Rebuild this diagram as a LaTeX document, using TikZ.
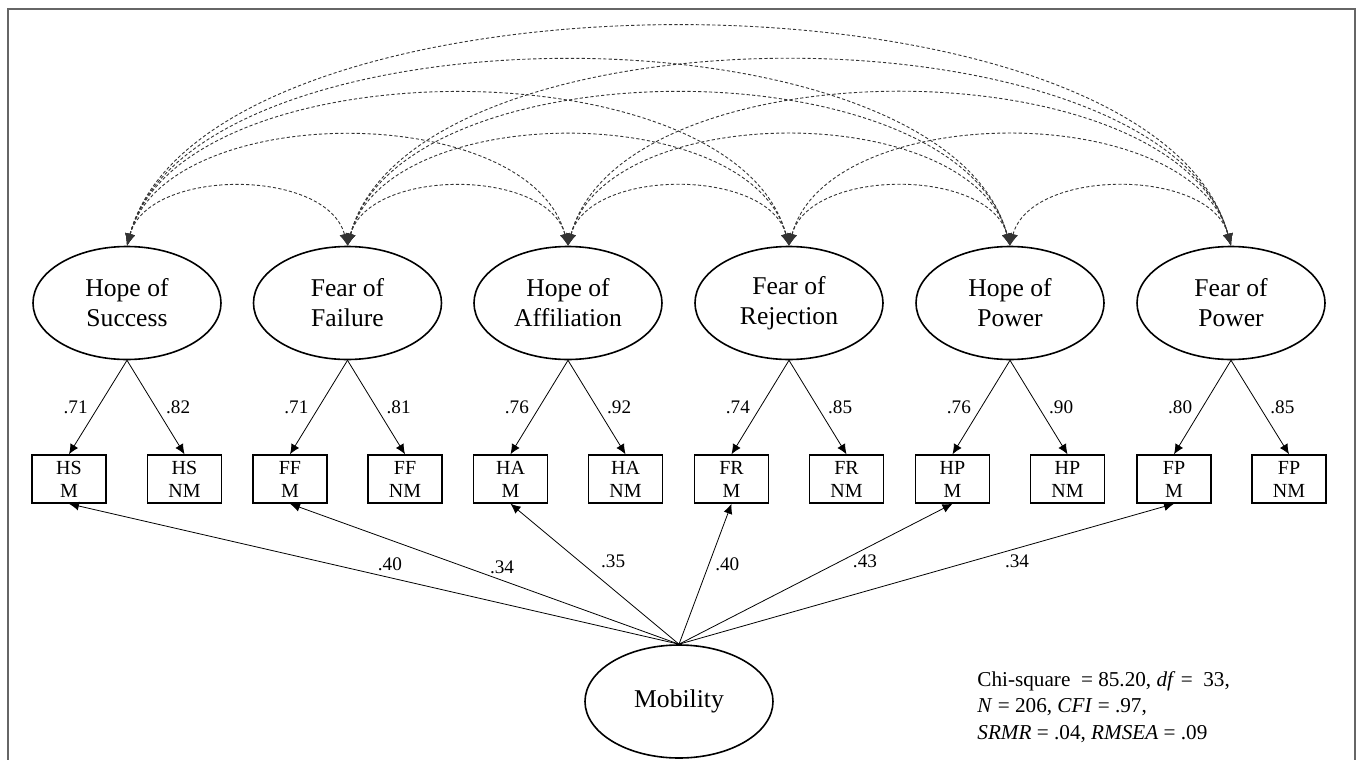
\documentclass[tikz,border=0pt]{standalone}
\usepackage{fontspec}
\setmainfont{Liberation Serif}
\usetikzlibrary{shapes.geometric,arrows.meta}

\begin{document}
\begin{tikzpicture}[x=0.5pt,y=-0.5pt,
    latent/.style={ellipse,draw,line width=0.8pt,minimum width=94pt,minimum height=56.5pt,inner sep=0pt,align=center,font=\fontsize{12.8}{15}\selectfont},
    obs/.style={rectangle,draw,line width=0.75pt,minimum width=37pt,minimum height=24pt,inner sep=0pt,align=center,font=\fontsize{10}{11.5}\selectfont},
    load/.style={-{Latex[length=5pt,width=4.5pt]},line width=0.4pt},
    cov/.style={{Latex[length=6pt,width=5pt]}-{Latex[length=6pt,width=5pt]},dash pattern=on 1.6pt off 1.1pt,line width=0.45pt,draw=black!80},
    coef/.style={font=\fontsize{9.6}{11}\selectfont,inner sep=3pt}]
        \useasboundingbox (0,0) rectangle (1360,760);
        \draw[black!60,line width=1pt] (8,770) -- (8,9) -- (1355,9) -- (1355,770);
        % latent factors
        \node[latent] (hs) at (127,303) {Hope of\\Success};
        \node[latent] (ff) at (347.5,303) {Fear of\\Failure};
        \node[latent] (ha) at (568,303) {Hope of\\Affiliation};
        \node[latent] (fr) at (789,303) {Fear of\\Rejection};
        \node[latent] (hp) at (1010,303) {Hope of\\Power};
        \node[latent] (fp) at (1231,303) {Fear of\\Power};
        \node[latent] (mob) at (679,701.5) {Mobility};
        % indicators
        \node[obs] (hsM) at (69,479) {HS\\M};
        \node[obs] (hsNM) at (184.5,479) {HS\\NM};
        \node[obs] (ffM) at (290,479) {FF\\M};
        \node[obs] (ffNM) at (405,479) {FF\\NM};
        \node[obs] (haM) at (510.5,479) {HA\\M};
        \node[obs] (haNM) at (625.5,479) {HA\\NM};
        \node[obs] (frM) at (731.5,479) {FR\\M};
        \node[obs] (frNM) at (846.5,479) {FR\\NM};
        \node[obs] (hpM) at (952.5,479) {HP\\M};
        \node[obs] (hpNM) at (1067.5,479) {HP\\NM};
        \node[obs] (fpM) at (1174,479) {FP\\M};
        \node[obs] (fpNM) at (1289,479) {FP\\NM};
        % loadings
        \draw[load] (hs.south) -- node[coef,left=2pt] {.71} (hsM.north);
        \draw[load] (hs.south) -- node[coef,right=2pt] {.82} (hsNM.north);
        \draw[load] (ff.south) -- node[coef,left=2pt] {.71} (ffM.north);
        \draw[load] (ff.south) -- node[coef,right=2pt] {.81} (ffNM.north);
        \draw[load] (ha.south) -- node[coef,left=2pt] {.76} (haM.north);
        \draw[load] (ha.south) -- node[coef,right=2pt] {.92} (haNM.north);
        \draw[load] (fr.south) -- node[coef,left=2pt] {.74} (frM.north);
        \draw[load] (fr.south) -- node[coef,right=2pt] {.85} (frNM.north);
        \draw[load] (hp.south) -- node[coef,left=2pt] {.76} (hpM.north);
        \draw[load] (hp.south) -- node[coef,right=2pt] {.90} (hpNM.north);
        \draw[load] (fp.south) -- node[coef,left=2pt] {.80} (fpM.north);
        \draw[load] (fp.south) -- node[coef,right=2pt] {.85} (fpNM.north);
        % mobility paths
        \draw[load] (mob.north) -- node[coef,pos=0.474,above] {.40} (hsM.south);
        \draw[load] (mob.north) -- node[coef,pos=0.455,above] {.34} (ffM.south);
        \draw[load] (mob.north) -- node[coef,pos=0.5,above right] {.35} (haM.south);
        \draw[load] (mob.north) -- node[coef,pos=0.57,right] {.40} (frM.south);
        \draw[load] (mob.north) -- node[coef,pos=0.68,below] {.43} (hpM.south);
        \draw[load] (mob.north) -- node[coef,pos=0.683,below] {.34} (fpM.south);
        % covariances
        \draw[cov] (hs.north) to[out=75,in=105,looseness=0.94] (ff.north);
        \draw[cov] (ff.north) to[out=75,in=105,looseness=0.94] (ha.north);
        \draw[cov] (ha.north) to[out=75,in=105,looseness=0.94] (fr.north);
        \draw[cov] (fr.north) to[out=75,in=105,looseness=0.94] (hp.north);
        \draw[cov] (hp.north) to[out=75,in=105,looseness=0.94] (fp.north);
        \draw[cov] (hs.north) to[out=75,in=105,looseness=0.88] (ha.north);
        \draw[cov] (ff.north) to[out=75,in=105,looseness=0.88] (fr.north);
        \draw[cov] (ha.north) to[out=75,in=105,looseness=0.88] (hp.north);
        \draw[cov] (fr.north) to[out=75,in=105,looseness=0.88] (fp.north);
        \draw[cov] (hs.north) to[out=75,in=105,looseness=0.81] (fr.north);
        \draw[cov] (ff.north) to[out=75,in=105,looseness=0.81] (hp.north);
        \draw[cov] (ha.north) to[out=75,in=105,looseness=0.81] (fp.north);
        \draw[cov] (hs.north) to[out=75,in=105,looseness=0.74] (hp.north);
        \draw[cov] (ff.north) to[out=75,in=105,looseness=0.74] (fp.north);
        \draw[cov] (hs.north) to[out=75,in=105,looseness=0.70] (fp.north);
        % fit indices
        \node[anchor=west,align=left,inner sep=0pt,font=\fontsize{10.6}{13.3}\selectfont] (fit) at (977,707) {Chi-square \ = 85.20, \textit{df} = \ 33,\\\textit{N} = 206, \textit{CFI} = .97,\\\textit{SRMR} = .04, \textit{RMSEA} = .09};
\end{tikzpicture}
\end{document}
